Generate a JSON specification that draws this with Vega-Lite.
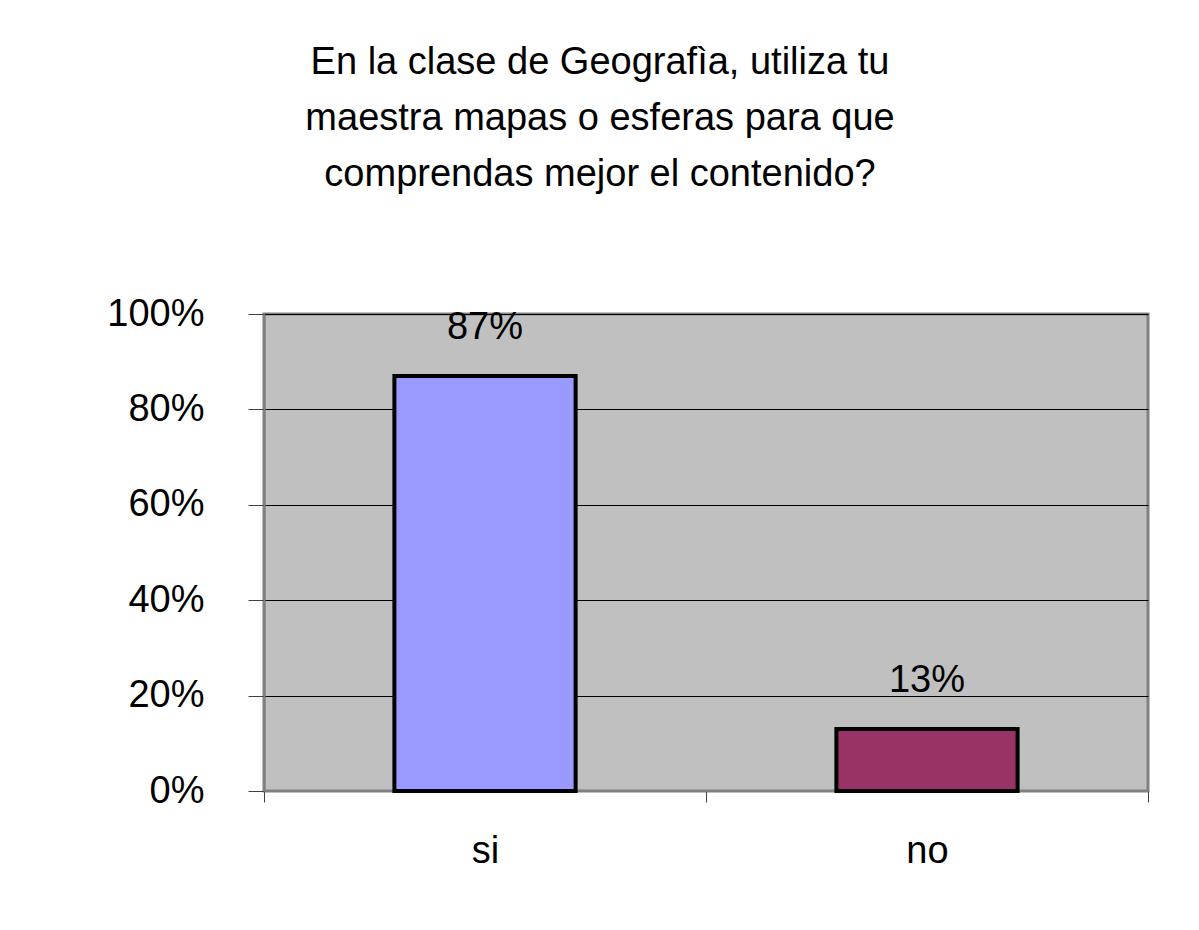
{
  "$schema": "https://vega.github.io/schema/vega-lite/v6.json",
  "autosize": "none",
  "width": 884,
  "height": 477,
  "padding": {"left": 264, "top": 314, "right": 51, "bottom": 139},
  "background": "white",
  "title": {
    "text": ["En la clase de Geografìa, utiliza tu", "maestra mapas o esferas para que", "comprendas mejor el contenido?"],
    "font": "Liberation Sans",
    "fontSize": 38,
    "fontWeight": "normal",
    "color": "black",
    "lineHeight": 56,
    "anchor": "middle",
    "frame": "group",
    "dx": -106,
    "offset": 101
  },
  "data": {
    "values": [
      {"respuesta": "si", "porcentaje": 0.87},
      {"respuesta": "no", "porcentaje": 0.13}
    ]
  },
  "encoding": {
    "x": {
      "field": "respuesta",
      "type": "nominal",
      "sort": null,
      "scale": {"paddingInner": 0, "paddingOuter": 0},
      "axis": {
        "title": null,
        "labelAngle": 0,
        "labelFont": "Liberation Sans",
        "labelFontSize": 38,
        "labelColor": "black",
        "labelPadding": 30,
        "tickBand": "extent",
        "tickSize": 11,
        "tickColor": "#404040",
        "domainColor": "#808080",
        "domainWidth": 1
      }
    },
    "y": {
      "field": "porcentaje",
      "type": "quantitative",
      "scale": {"domain": [0, 1]},
      "axis": {
        "title": null,
        "values": [0, 0.2, 0.4, 0.6, 0.8, 1],
        "format": "%",
        "labelFont": "Liberation Sans",
        "labelFontSize": 38,
        "labelColor": "black",
        "labelPadding": 44,
        "tickSize": 16,
        "tickColor": "#404040",
        "domainColor": "#808080",
        "domainWidth": 2,
        "grid": true,
        "gridColor": "black",
        "gridWidth": 1,
        "gridOpacity": 1
      }
    }
  },
  "layer": [
    {
      "mark": {"type": "bar", "width": {"band": 0.41}, "stroke": "black", "strokeWidth": 4},
      "encoding": {
        "color": {
          "field": "respuesta",
          "type": "nominal",
          "sort": null,
          "scale": {"domain": ["si", "no"], "range": ["#9999FF", "#993366"]},
          "legend": null
        }
      }
    },
    {
      "mark": {"type": "text", "font": "Liberation Sans", "fontSize": 38, "color": "black", "baseline": "alphabetic", "dy": -37},
      "encoding": {
        "text": {"field": "porcentaje", "type": "quantitative", "format": ".0%"}
      }
    }
  ],
  "config": {
    "view": {"fill": "#C0C0C0", "stroke": "#808080", "strokeWidth": 3}
  }
}
